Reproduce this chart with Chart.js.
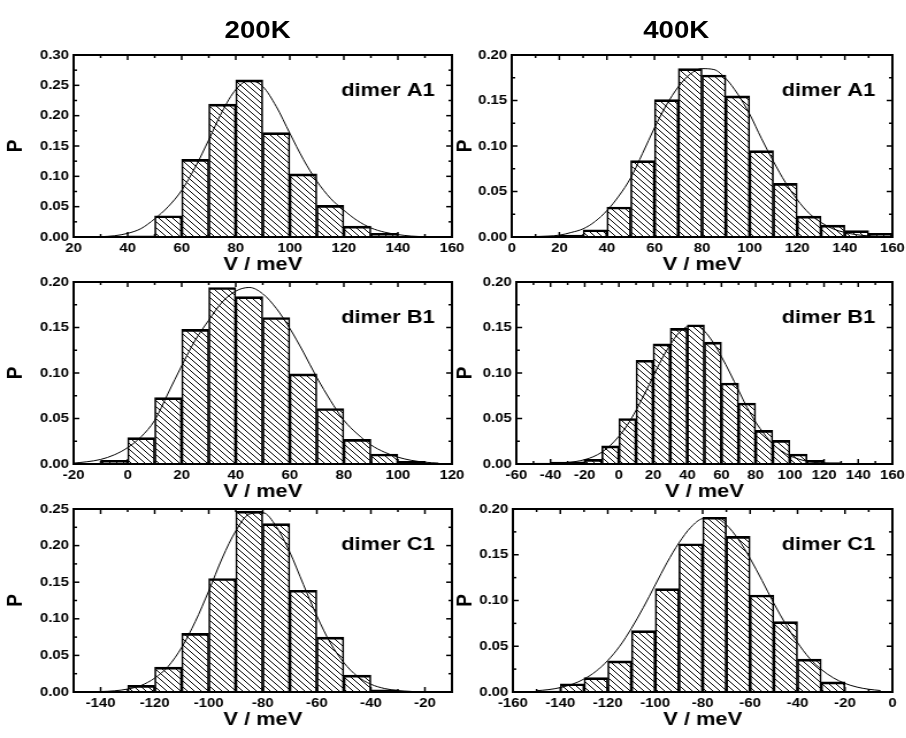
<!DOCTYPE html>
<html>
<head>
<meta charset="utf-8">
<script src="https://cdn.jsdelivr.net/npm/chart.js@4.4.1/dist/chart.umd.min.js"></script>
<style>
  html, body { margin: 0; padding: 0; background: #fff; overflow: hidden; }
  #page { position: absolute; left: 0; top: 0; width: 788px; height: 738px; transform: scaleX(1.15); transform-origin: 0 0; }
  #page canvas { position: absolute; }
  .head { position: absolute; top: 16px; width: 120px; text-align: center; font: bold 24px "Liberation Sans", Arial, sans-serif; color: #000; }
</style>
</head>
<body>
<div id="page">
  <div class="head" style="left:164px">200K</div>
  <div class="head" style="left:528px">400K</div>
</div>
<script>
// ---- data (bin = left edge of a 10 meV bin, prob = height) ----

// 200K dimer A1
const binsA200 = [30, 40, 50, 60, 70, 80, 90, 100, 110, 120, 130, 140];
const probA200 = [0.001, 0.002, 0.035, 0.128, 0.219, 0.259, 0.172, 0.104, 0.052, 0.018, 0.006, 0.001];
const fitXA200 = [30, 35, 40, 45, 50, 55, 60, 65, 70, 75, 80, 85, 90, 95, 100, 105, 110, 115, 120, 125, 130, 135, 140, 145, 150];
const fitYA200 = [0.0005, 0.002, 0.006, 0.014, 0.030, 0.050, 0.077, 0.115, 0.160, 0.207, 0.243, 0.258, 0.248, 0.215, 0.171, 0.128, 0.092, 0.064, 0.044, 0.027, 0.015, 0.008, 0.004, 0.0015, 0.0005];

// 400K dimer A1
const binsA400 = [20, 30, 40, 50, 60, 70, 80, 90, 100, 110, 120, 130, 140, 150];
const probA400 = [0.002, 0.008, 0.033, 0.084, 0.151, 0.185, 0.178, 0.155, 0.095, 0.059, 0.023, 0.013, 0.007, 0.004];
const fitXA400 = [10, 15, 20, 25, 30, 35, 40, 45, 50, 55, 60, 65, 70, 75, 80, 85, 90, 95, 100, 105, 110, 115, 120, 125, 130, 135, 140, 145, 150, 155];
const fitYA400 = [0.0005, 0.001, 0.002, 0.005, 0.009, 0.017, 0.029, 0.045, 0.065, 0.092, 0.120, 0.145, 0.165, 0.179, 0.185, 0.184, 0.174, 0.157, 0.135, 0.108, 0.083, 0.060, 0.041, 0.026, 0.016, 0.009, 0.005, 0.0025, 0.0012, 0.0005];

// 200K dimer B1
const binsB200 = [-10, 0, 10, 20, 30, 40, 50, 60, 70, 80, 90, 100];
const probB200 = [0.004, 0.029, 0.073, 0.148, 0.194, 0.184, 0.161, 0.099, 0.061, 0.027, 0.011, 0.003];
const fitXB200 = [-20, -15, -10, -5, 0, 5, 10, 15, 20, 25, 30, 35, 40, 45, 50, 55, 60, 65, 70, 75, 80, 85, 90, 95, 100, 105, 110, 115];
const fitYB200 = [0.001, 0.0025, 0.005, 0.010, 0.018, 0.030, 0.048, 0.078, 0.108, 0.136, 0.158, 0.178, 0.190, 0.194, 0.187, 0.171, 0.149, 0.123, 0.095, 0.070, 0.048, 0.033, 0.021, 0.013, 0.0075, 0.004, 0.002, 0.001];

// 400K dimer B1
const binsB400 = [-50, -40, -30, -20, -10, 0, 10, 20, 30, 40, 50, 60, 70, 80, 90, 100, 110, 120, 130, 140];
const probB400 = [0.001, 0.002, 0.0025, 0.005, 0.020, 0.050, 0.114, 0.132, 0.149, 0.153, 0.134, 0.089, 0.067, 0.037, 0.026, 0.011, 0.004, 0.0015, 0.0005, 0.0005];
const fitXB400 = [-50, -45, -40, -35, -30, -25, -20, -15, -10, -5, 0, 5, 10, 15, 20, 25, 30, 35, 40, 45, 50, 55, 60, 65, 70, 75, 80, 85, 90, 95, 100, 105, 110, 115, 120, 125, 130];
const fitYB400 = [0.0001, 0.0002, 0.0004, 0.0008, 0.0015, 0.0028, 0.0048, 0.008, 0.013, 0.0205, 0.0305, 0.043, 0.059, 0.077, 0.096, 0.115, 0.131, 0.144, 0.151, 0.152, 0.146, 0.134, 0.118, 0.100, 0.081, 0.062, 0.046, 0.033, 0.022, 0.0145, 0.009, 0.0055, 0.003, 0.0017, 0.0009, 0.0004, 0.0002];

// 200K dimer C1
const binsC200 = [-140, -130, -120, -110, -100, -90, -80, -70, -60, -50, -40];
const probC200 = [0.001, 0.009, 0.034, 0.080, 0.155, 0.247, 0.230, 0.139, 0.075, 0.023, 0.003];
const fitXC200 = [-145, -140, -135, -130, -125, -120, -115, -110, -105, -100, -95, -90, -85, -80, -75, -70, -65, -60, -55, -50, -45, -40, -35, -30, -25];
const fitYC200 = [0.0002, 0.0006, 0.0016, 0.004, 0.009, 0.019, 0.035, 0.061, 0.096, 0.138, 0.183, 0.220, 0.243, 0.245, 0.226, 0.191, 0.147, 0.104, 0.067, 0.040, 0.0215, 0.0106, 0.0048, 0.002, 0.0008];

// 400K dimer C1
const binsC400 = [-150, -140, -130, -120, -110, -100, -90, -80, -70, -60, -50, -40, -30];
const probC400 = [0.001, 0.009, 0.0157, 0.034, 0.067, 0.113, 0.162, 0.191, 0.170, 0.106, 0.077, 0.036, 0.011];
const fitXC400 = [-150, -145, -140, -135, -130, -125, -120, -115, -110, -105, -100, -95, -90, -85, -80, -75, -70, -65, -60, -55, -50, -45, -40, -35, -30, -25, -20, -15, -10, -5];
const fitYC400 = [0.0014, 0.0026, 0.0048, 0.0085, 0.0142, 0.0226, 0.0345, 0.050, 0.0697, 0.0924, 0.117, 0.1415, 0.163, 0.180, 0.1895, 0.1903, 0.1826, 0.167, 0.146, 0.122, 0.097, 0.074, 0.054, 0.037, 0.0247, 0.0156, 0.0094, 0.0054, 0.003, 0.0016];

// tick labels
const xTicksA200 = [20, 40, 60, 80, 100, 120, 140, 160];
const xTicksA400 = [0, 20, 40, 60, 80, 100, 120, 140, 160];
const xTicksB200 = [-20, 0, 20, 40, 60, 80, 100, 120];
const xTicksB400 = [-60, -40, -20, 0, 20, 40, 60, 80, 100, 120, 140, 160];
const xTicksC200 = [-140, -120, -100, -80, -60, -40, -20];
const xTicksC400 = [-160, -140, -120, -100, -80, -60, -40, -20, 0];
const yTicks30 = [0, 0.05, 0.10, 0.15, 0.20, 0.25, 0.30];
const yTicks25 = [0, 0.05, 0.10, 0.15, 0.20, 0.25];
const yTicks20 = [0, 0.05, 0.10, 0.15, 0.20];

const FONT = '"Liberation Sans", Arial, sans-serif';
Chart.defaults.font.family = FONT;
Chart.defaults.color = '#000';

// panel layout (x in unscaled page units, y in px)
const panels = [
  { label: 'dimer A1', bins: binsA200, prob: probA200, fitX: fitXA200, fitY: fitYA200, xMin: 20, xMax: 160, xTicks: xTicksA200, yMax: 0.30, yTicks: yTicks30, left: 2, top: 40, w: 408, h: 236, yW: 62 },
  { label: 'dimer A1', bins: binsA400, prob: probA400, fitX: fitXA400, fitY: fitYA400, xMin: 0, xMax: 160, xTicks: xTicksA400, yMax: 0.20, yTicks: yTicks20, left: 393, top: 40, w: 400, h: 236, yW: 52 },
  { label: 'dimer B1', bins: binsB200, prob: probB200, fitX: fitXB200, fitY: fitYB200, xMin: -20, xMax: 120, xTicks: xTicksB200, yMax: 0.20, yTicks: yTicks20, left: 2, top: 267, w: 408, h: 236, yW: 62 },
  { label: 'dimer B1', bins: binsB400, prob: probB400, fitX: fitXB400, fitY: fitYB400, xMin: -60, xMax: 160, xTicks: xTicksB400, yMax: 0.20, yTicks: yTicks20, left: 393, top: 267, w: 400, h: 236, yW: 56 },
  { label: 'dimer C1', bins: binsC200, prob: probC200, fitX: fitXC200, fitY: fitYC200, xMin: -150, xMax: -10, xTicks: xTicksC200, yMax: 0.25, yTicks: yTicks25, left: 2, top: 494, w: 408, h: 237, yW: 62 },
  { label: 'dimer C1', bins: binsC400, prob: probC400, fitX: fitXC400, fitY: fitYC400, xMin: -160, xMax: 0, xTicks: xTicksC400, yMax: 0.20, yTicks: yTicks20, left: 393, top: 494, w: 400, h: 237, yW: 53 }
];

// diagonal hatch "\\\\" like the original
function hatch(ctx) {
  const t = document.createElement('canvas');
  t.width = 6; t.height = 6;
  const g = t.getContext('2d');
  g.strokeStyle = '#000';
  g.lineWidth = 1;
  g.beginPath();
  g.moveTo(-1, -1); g.lineTo(7, 7);
  g.moveTo(-1, 5); g.lineTo(1, 7);
  g.moveTo(5, -1); g.lineTo(7, 1);
  g.stroke();
  return ctx.createPattern(t, 'repeat');
}

// box frame, inward ticks on all four sides, panel label
const framePlugin = {
  id: 'frame',
  afterDatasetsDraw(chart, args, opts) {
    const { ctx, chartArea: a, scales: { x, y } } = chart;
    ctx.save();
    ctx.strokeStyle = '#000';
    ctx.lineWidth = 1.5;
    const seg = (x1, y1, x2, y2) => { ctx.beginPath(); ctx.moveTo(x1, y1); ctx.lineTo(x2, y2); ctx.stroke(); };

    const xs = opts.xTicks, ys = opts.yTicks;
    const xStep = (xs[1] - xs[0]) / 2, yStep = (ys[1] - ys[0]) / 2;
    const nx = Math.round((x.max - x.min) / xStep);
    for (let i = 0; i <= nx; i++) {
      const v = x.min + i * xStep;
      const major = xs.some(t => Math.abs(t - v) < 1e-6);
      const len = major ? 5 : 3;
      const p = x.getPixelForValue(v);
      seg(p, a.bottom, p, a.bottom - len);
      seg(p, a.top, p, a.top + len);
    }
    const ny = Math.round((y.max - y.min) / yStep);
    for (let i = 0; i <= ny; i++) {
      const v = y.min + i * yStep;
      const major = ys.some(t => Math.abs(t - v) < 1e-6);
      const len = major ? 5 : 3;
      const p = y.getPixelForValue(v);
      seg(a.left, p, a.left + len, p);
      seg(a.right, p, a.right - len, p);
    }

    ctx.lineWidth = 2;
    ctx.strokeRect(a.left, a.top, a.right - a.left, a.bottom - a.top);

    ctx.fillStyle = '#000';
    ctx.font = 'bold 19px ' + FONT;
    ctx.textAlign = 'right';
    ctx.textBaseline = 'alphabetic';
    ctx.fillText(opts.label, a.right - 15, a.top + 41);
    ctx.restore();
  }
};

const page = document.getElementById('page');

panels.forEach(p => {
  const cv = document.createElement('canvas');
  cv.width = p.w; cv.height = p.h;
  cv.style.left = p.left + 'px';
  cv.style.top = p.top + 'px';
  page.appendChild(cv);
  const ctx = cv.getContext('2d');

  new Chart(ctx, {
    type: 'bar',
    data: {
      datasets: [
        {
          type: 'line',
          data: p.fitX.map((v, i) => ({ x: v, y: p.fitY[i] })),
          borderColor: '#000',
          borderWidth: 1,
          pointRadius: 0,
          tension: 0.4,
          cubicInterpolationMode: 'monotone',
          fill: false,
          order: 0
        },
        {
          type: 'bar',
          data: p.bins.map((b, i) => ({ x: b + 5, y: p.prob[i] })),
          backgroundColor: hatch(ctx),
          borderColor: '#000',
          borderWidth: { top: 2, left: 1, right: 1, bottom: 0 },
          barPercentage: 1,
          categoryPercentage: 1,
          order: 1
        }
      ]
    },
    options: {
      responsive: false,
      animation: false,
      devicePixelRatio: 1,
      layout: { padding: { left: 0, top: 15, right: 17, bottom: 0 } },
      plugins: {
        legend: { display: false },
        tooltip: { enabled: false },
        frame: { label: p.label, xTicks: p.xTicks, yTicks: p.yTicks }
      },
      scales: {
        x: {
          type: 'linear',
          min: p.xMin,
          max: p.xMax,
          offset: false,
          grid: { display: false, drawTicks: false },
          border: { display: false },
          afterBuildTicks: s => { s.ticks = p.xTicks.map(v => ({ value: v })); },
          afterFit: s => { s.height = 39; },
          ticks: { autoSkip: false, maxRotation: 0, padding: 4, color: '#000', font: { size: 13, weight: 'bold' }, callback: v => String(v) },
          title: { display: true, text: 'V / meV', color: '#000', padding: 0, font: { size: 19, weight: 'bold' } }
        },
        y: {
          min: 0,
          max: p.yMax,
          grid: { display: false, drawTicks: false },
          border: { display: false },
          afterBuildTicks: s => { s.ticks = p.yTicks.map(v => ({ value: v })); },
          afterFit: s => { s.width = p.yW; },
          ticks: { autoSkip: false, padding: 4, color: '#000', font: { size: 13, weight: 'bold' }, callback: v => v.toFixed(2) },
          title: { display: true, text: 'P', color: '#000', padding: 0, font: { size: 19, weight: 'bold' } }
        }
      }
    },
    plugins: [framePlugin]
  });
});
</script>
</body>
</html>
